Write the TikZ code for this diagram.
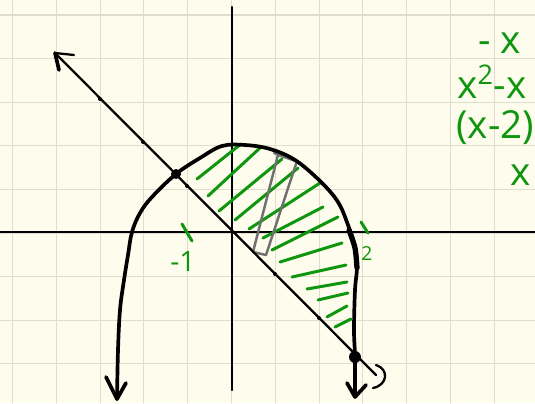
\documentclass[tikz,border=0pt]{standalone}
\usepackage{fontspec}
\newfontfamily\handfont{Open Sans}
\definecolor{paperCream}{RGB}{253,252,237}
\definecolor{gridRule}{RGB}{224,221,206}
\definecolor{penBlack}{RGB}{0,0,0}
\definecolor{penGreen}{RGB}{14,150,14}
\definecolor{penGray}{RGB}{112,112,112}

\begin{document}
\begin{tikzpicture}[x=0.02cm, y=-0.02cm, line cap=round, line join=round,
    axis/.style={penBlack, line width=1.4pt},
    pen/.style={penBlack, line width=1.3pt},
    curve/.style={penBlack, line width=2.1pt},
    hatch/.style={penGreen, line width=1.7pt},
    note/.style={penGreen, inner sep=0pt, anchor=base west, font=\handfont\fontsize{22pt}{22pt}\selectfont}]
  \useasboundingbox (0,0) rectangle (535,403);
  \clip (0,0) rectangle (535,403);
  \fill[paperCream] (0,0) rectangle (535,403);
  % grid paper
  \foreach \k in {0,...,12}
    \draw[gridRule, line width=0.6pt] ({12.5+43.8*\k},0) -- ++(0,403);
  \foreach \k in {0,...,9}
    \draw[gridRule, line width=0.6pt] (0,{15+43.6*\k}) -- ++(535,0);

  % axes
  \draw[axis] (0,232) -- (535,232);
  \draw[axis] (232,7) -- (232,390);

  % shaded region
  \foreach \xa/\ya/\xb/\yb in {197/179/241/144, 208/196/261/147, 219/211/282/159,
      235/220/298/168, 249/229/320/183, 263/238/323/207, 272/250/338/217,
      280/262/342/243, 292/277/346/265, 307/289/347/282, 318/300/348/293,
      327/317/347/306, 335/327/351/319}
    \draw[hatch] (\xa,\ya) -- (\xb,\yb);

  % sample strip
  \draw[penGray, line width=1.4pt] (278,155) -- (297,161) -- (266,255) -- (253,252) -- cycle;
  \draw[penGray, line width=1.4pt] (274,153) -- (301,163);

  % y = -x
  \coordinate (tipA) at (55,53);
  \coordinate (tipB) at (376,375);
  \coordinate (crossL) at (176,174);
  \coordinate (crossR) at (355,357);
  \draw[pen] (tipA) -- (tipB);
  \draw[pen] (74,55) -- (tipA);
  \draw[curve] (tipA) -- (59,70);
  \draw[pen] (376,365) .. controls (389,369) and (388,385) .. (373,388);
  \foreach \p in {(100,99), (143,142), (187,186), (275,274), (319,318)}
    \fill[penBlack] \p circle[radius=2];

  % parabola
  \draw[curve] plot[smooth, tension=0.6] coordinates {(117,399) (118,350)
      (120,310) (124,280) (128,255) (132,232) (140,213) (152,197) (176,174)
      (200,158) (222,146) (245,145) (270,149) (295,160) (320,181) (338,202)
      (348,225) (355,247) (357,267) (355,290) (354,330) (355,357) (355,396)};
  \draw[curve, line width=3pt] plot[smooth] coordinates {(349,230) (355,248) (357,268)};
  \draw[curve] (106,377) -- (117,399) -- (126,383);
  \draw[curve] (347,383) -- (355,397) -- (366,385);

  \fill[penBlack] (crossL) circle[radius=5];
  \fill[penBlack] (crossR) circle[radius=6];

  % axis marks
  \draw[hatch] (182,224) -- (192,241);
  \node[penGreen, inner sep=0pt, font=\handfont\fontsize{16pt}{16pt}\selectfont] (markL) at (183,261) {-1};
  \draw[hatch] (361,222) -- (368,233);
  \node[penGreen, inner sep=0pt, font=\handfont\fontsize{11pt}{11pt}\selectfont] (markR) at (367,253) {2};

  % working
  \node[note] (eqA) at (478,53) {- x};
  \node[note] (eqB) at (457,98) {x\textsuperscript{2}-x};
  \node[note] (eqC) at (456,138) {(x-2)};
  \node[note] (eqD) at (510,185) {x};
\end{tikzpicture}
\end{document}
